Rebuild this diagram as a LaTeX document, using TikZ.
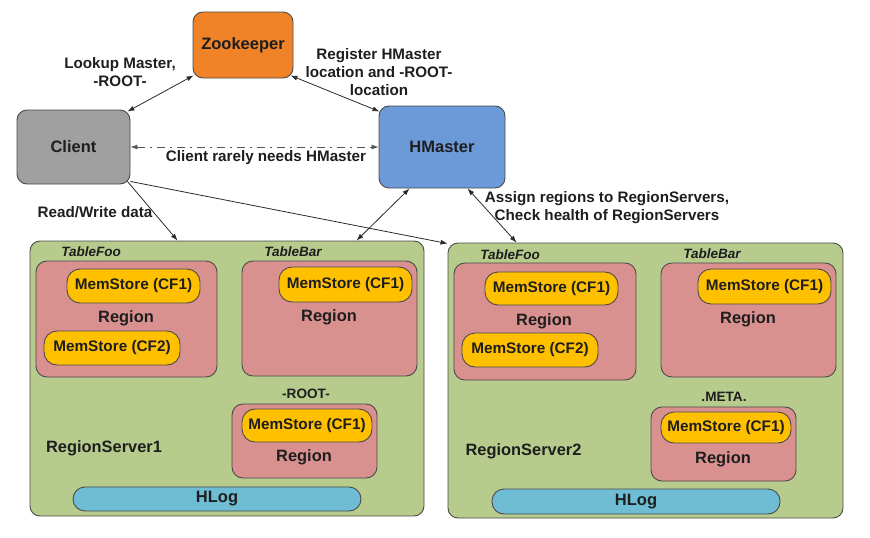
\documentclass[tikz,border=0pt]{standalone}
\usepackage{fontspec}
\setmainfont{Liberation Sans}
\usetikzlibrary{arrows.meta,calc}
\definecolor{zkc}{HTML}{F08228}
\definecolor{clc}{HTML}{A0A0A0}
\definecolor{hmc}{HTML}{6C99D8}
\definecolor{rsc}{HTML}{B6CB8C}
\definecolor{rgc}{HTML}{D9918F}
\definecolor{msc}{HTML}{FFC000}
\definecolor{hlc}{HTML}{6EBDD4}
\definecolor{bordc}{HTML}{4A4A4A}
\definecolor{linec}{HTML}{2A2A2A}
\definecolor{txtc}{HTML}{1E1E1E}
\begin{document}
\begin{tikzpicture}[x=1pt,y=-1pt,
  box/.style={draw=bordc, line width=0.9pt, rounded corners=10pt, inner sep=0pt,
    font=\bfseries\fontsize{16.5}{18}\selectfont, text=txtc},
  region/.style={box, fill=rgc, rounded corners=11pt},
  memstore/.style={box, fill=msc, rounded corners=13pt, font=\bfseries\fontsize{15.3}{17}\selectfont},
  hlogbox/.style={box, fill=hlc, rounded corners=12pt},
  lbl/.style={inner sep=0pt, text=txtc, font=\bfseries\fontsize{15.2}{18}\selectfont, align=center},
  tbl/.style={inner sep=0pt, text=txtc, font=\bfseries\itshape\fontsize{13.5}{15}\selectfont},
  rlbl/.style={inner sep=0pt, text=txtc, font=\bfseries\fontsize{16.4}{18}\selectfont},
  conn/.style={draw=linec, line width=0.8pt},
  tip/.tip={Latex[length=7pt,width=5pt]}
]
\useasboundingbox (0,0) rectangle (870,538);

% top nodes
\node[box, fill=zkc, minimum width=100pt, minimum height=66pt] (zk) at (243,45) {Zookeeper};
\node[box, fill=clc, minimum width=113pt, minimum height=74pt] (client) at (73.5,147) {Client};
\node[box, fill=hmc, minimum width=126pt, minimum height=82pt] (hm) at (442,147) {HMaster};

% region servers
\node[box, fill=rsc, minimum width=394pt, minimum height=275pt] (rs1) at (227,378.5) {};
\node[box, fill=rsc, minimum width=395pt, minimum height=275pt] (rs2) at (645.5,380.5) {};

% RS1 contents
\node[tbl] (t1a) at (91,252) {TableFoo};
\node[region, minimum width=181pt, minimum height=116pt] (r1a) at (126.5,319) {};
\node[memstore, minimum width=133pt, minimum height=34pt] (m1a) at (133.5,286) {MemStore (CF1)};
\node[rlbl] (l1a) at (126,318) {Region};
\node[memstore, minimum width=136pt, minimum height=34pt] (m1b) at (112,348) {MemStore (CF2)};

\node[tbl] (t1b) at (293,252) {TableBar};
\node[region, minimum width=175pt, minimum height=115pt] (r1b) at (329.5,318.5) {};
\node[memstore, minimum width=133pt, minimum height=35pt] (m1c) at (345.5,284.5) {MemStore (CF1)};
\node[rlbl] (l1b) at (329,317) {Region};

\node[lbl, font=\bfseries\fontsize{13.6}{15}\selectfont] (root) at (306,394) {-ROOT-};
\node[region, minimum width=145pt, minimum height=74pt] (r1c) at (304.5,441) {};
\node[memstore, minimum width=130pt, minimum height=33pt] (m1d) at (307,425.5) {MemStore (CF1)};
\node[rlbl] (l1c) at (304,457) {Region};

\node[rlbl] (rs1l) at (104,448) {RegionServer1};
\node[hlogbox, minimum width=288pt, minimum height=24pt] (hl1) at (217,499) {HLog};

% RS2 contents
\node[tbl] (t2a) at (510,255) {TableFoo};
\node[region, minimum width=182pt, minimum height=117pt] (r2a) at (545,321.5) {};
\node[memstore, minimum width=133pt, minimum height=33pt] (m2a) at (551.5,288.5) {MemStore (CF1)};
\node[rlbl] (l2a) at (544,321) {Region};
\node[memstore, minimum width=136pt, minimum height=34pt] (m2b) at (530,350) {MemStore (CF2)};

\node[tbl] (t2b) at (712,254) {TableBar};
\node[region, minimum width=175pt, minimum height=114pt] (r2b) at (748.5,320) {};
\node[memstore, minimum width=133pt, minimum height=35pt] (m2c) at (764.5,286.5) {MemStore (CF1)};
\node[rlbl] (l2b) at (748,319) {Region};

\node[lbl, font=\bfseries\fontsize{13.6}{15}\selectfont] (meta) at (724,397) {.META.};
\node[region, minimum width=145pt, minimum height=74pt] (r2c) at (723.5,444) {};
\node[memstore, minimum width=130pt, minimum height=31pt] (m2d) at (726,427.5) {MemStore (CF1)};
\node[rlbl] (l2c) at (723,459) {Region};

\node[rlbl] (rs2l) at (523.5,451) {RegionServer2};
\node[hlogbox, minimum width=288pt, minimum height=25pt] (hl2) at (636,501.5) {HLog};

% labels
\node[lbl] (lk) at (120,72) {Lookup Master,\\-ROOT-};
\node[lbl] (reg) at (379,72) {Register HMaster\\location and -ROOT-\\location};
\node[lbl] (rare) at (266,158) {Client rarely needs HMaster};
\node[lbl] (rw) at (95,212) {Read/Write data};
\node[lbl] (asg) at (607,208) {Assign regions to RegionServers,\\Check health of RegionServers};

% connectors
\draw[conn, {tip}-{tip}] ($(client.north east)+(-3,2)$) -- ($(zk.south west)+(1,-3)$);
\draw[conn, {tip}-{tip}] ($(zk.south east)+(-3,-3)$) -- ($(hm.north west)+(1,6)$);
\draw[conn, draw=linec!80, {tip}-{tip}, dash pattern=on 8pt off 5pt on 2pt off 5pt] (client.east) -- (hm.west);
\draw[conn, -{tip}] ($(client.south east)+(-3,-3)$) -- ($(rs1.north west)+(148,0)$);
\draw[conn, -{tip}] ($(client.south east)+(0,-3)$) -- ($(rs2.north west)+(0,1)$);
\draw[conn, {tip}-{tip}] ($(rs1.north west)+(327,0)$) -- ($(hm.south west)+(31,0)$);
\draw[conn, {tip}-{tip}] ($(hm.south west)+(89,0)$) -- ($(rs2.north west)+(69,0)$);
\end{tikzpicture}
\end{document}
